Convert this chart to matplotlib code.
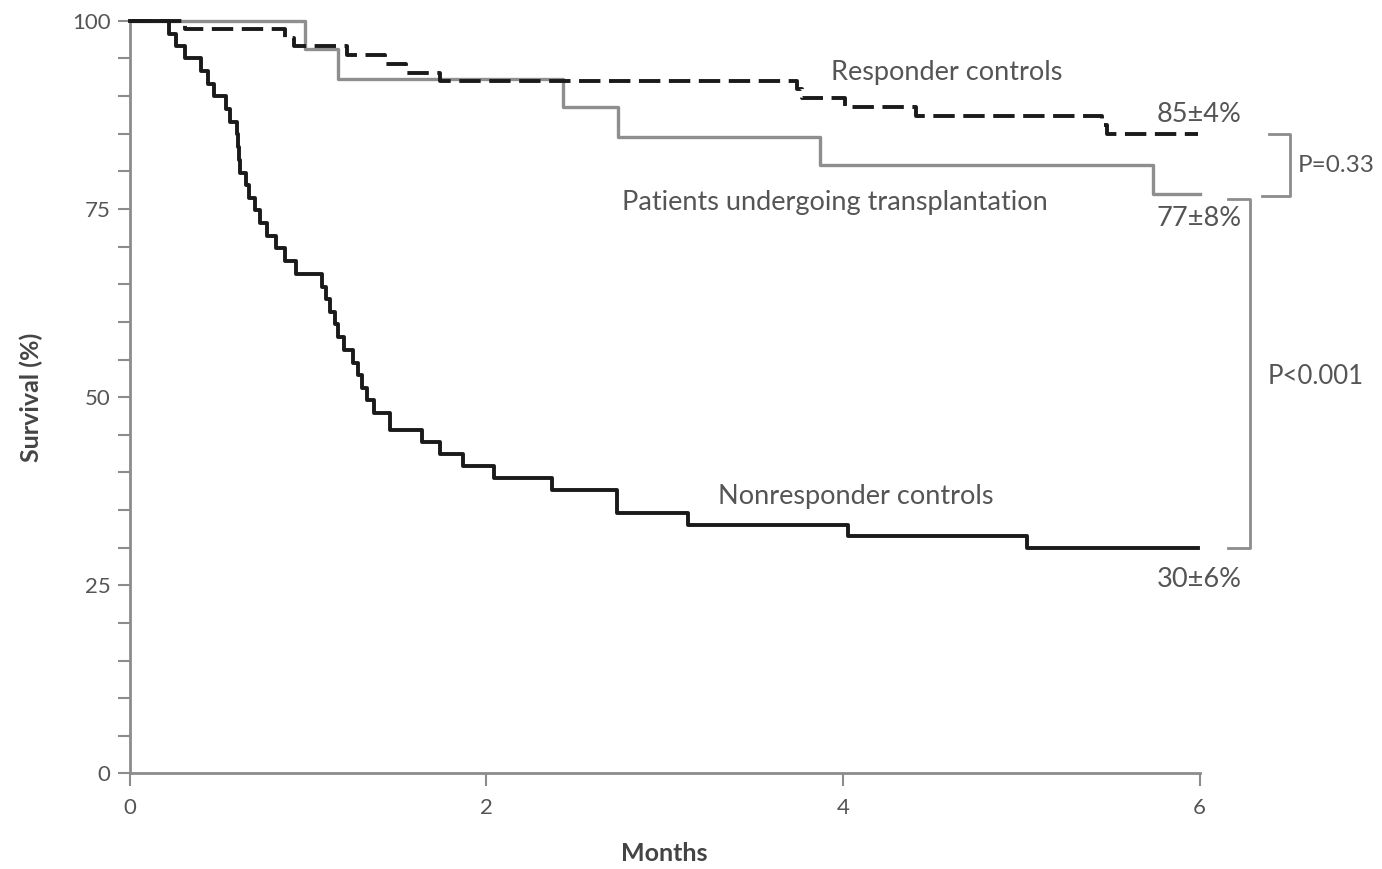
import matplotlib.pyplot as plt
from matplotlib.ticker import MultipleLocator

# Kaplan-Meier step data (months, survival %)
resp_t = [0.00, 0.31, 0.87, 0.92, 1.22, 1.43, 1.55, 1.74, 3.74, 3.77, 4.01, 4.41, 5.45, 5.48, 5.99]
resp_s = [100.0, 98.9, 97.7, 96.6, 95.4, 94.3, 93.1, 92.0, 90.9, 89.7, 88.6, 87.4, 86.2, 85.0, 85.0]

tx_t = [0.00, 0.98, 1.17, 2.43, 2.74, 3.87, 5.74, 6.00]
tx_s = [100.0, 96.2, 92.3, 88.5, 84.6, 80.8, 77.0, 77.0]

nonresp_t = [0.00, 0.22, 0.26, 0.31, 0.40, 0.44, 0.47, 0.54, 0.56, 0.60, 0.605, 0.61, 0.62,
             0.65, 0.67, 0.70, 0.73, 0.77, 0.82, 0.87, 0.93, 1.08, 1.10, 1.12, 1.15, 1.17,
             1.20, 1.25, 1.28, 1.30, 1.33, 1.37, 1.46, 1.64, 1.74, 1.87, 2.04, 2.37, 2.73,
             3.13, 4.03, 5.03, 5.99]
nonresp_s = [100.0, 98.3, 96.6, 95.0, 93.3, 91.6, 90.0, 88.3, 86.6, 84.9, 83.2, 81.5, 79.8,
             78.2, 76.5, 74.8, 73.1, 71.4, 69.8, 68.1, 66.4, 64.7, 63.0, 61.3, 59.7, 58.0,
             56.3, 54.6, 52.9, 51.2, 49.6, 47.9, 45.6, 44.0, 42.4, 40.9, 39.3, 37.7, 34.6,
             33.0, 31.5, 30.0, 30.0]

plt.rcParams['font.family'] = ['Lato', 'DejaVu Sans']
txt_col = '#555555'
axis_col = '#8c8c8c'
fs = 19.5

fig = plt.figure(figsize=(13.82, 8.69), dpi=100)
ax = fig.add_axes([0.094, 0.110, 0.774, 0.866])

ax.plot(tx_t, tx_s, drawstyle='steps-post', color='#8e8e8e', lw=2.4, clip_on=False, zorder=2)
ax.plot(resp_t, resp_s, drawstyle='steps-post', color='#1a1a1a', lw=2.8,
        dashes=(5.5, 2.2), clip_on=False, zorder=3)
ax.plot(nonresp_t, nonresp_s, drawstyle='steps-post', color='#1a1a1a', lw=2.8,
        clip_on=False, zorder=3)

ax.set_xlim(0, 6)
ax.set_ylim(0, 100)
ax.set_xticks([0, 2, 4, 6])
ax.yaxis.set_major_locator(MultipleLocator(25))
ax.yaxis.set_minor_locator(MultipleLocator(5))

for side in ['top', 'right']:
    ax.spines[side].set_visible(False)
for side in ['left', 'bottom']:
    ax.spines[side].set_color(axis_col)
    ax.spines[side].set_linewidth(2)

ax.tick_params(axis='both', which='both', direction='out', length=9, width=1.5,
               color=axis_col, labelcolor=txt_col, labelsize=16)
ax.tick_params(axis='x', pad=9)
ax.tick_params(axis='y', pad=5)

ax.set_xlabel('Months', fontsize=18, fontweight='bold', color='#444444', labelpad=17)
ax.set_ylabel('Survival (%)', fontsize=18, fontweight='bold', color='#444444', labelpad=21)

# curve labels
ax.text(3.93, 93.2, 'Responder controls', fontsize=fs, color=txt_col, va='center')
ax.text(2.76, 75.9, 'Patients undergoing transplantation', fontsize=fs, color=txt_col, va='center')
ax.text(3.30, 36.8, 'Nonresponder controls', fontsize=fs, color=txt_col, va='center')

ax.text(5.76, 87.6, '85\u00b14%', fontsize=fs, color=txt_col, va='center')
ax.text(5.76, 73.8, '77\u00b18%', fontsize=fs, color=txt_col, va='center')
ax.text(5.76, 25.8, '30\u00b16%', fontsize=fs, color=txt_col, va='center')

# comparison brackets
ax.plot([6.39, 6.51, 6.51, 6.35], [85.0, 85.0, 76.7, 76.7], color=axis_col, lw=2, clip_on=False)
ax.text(6.55, 80.8, 'P=0.33', fontsize=17.5, color=txt_col, va='center')
ax.plot([6.16, 6.285, 6.285, 6.16], [76.3, 76.3, 30.0, 30.0], color=axis_col, lw=2, clip_on=False)
ax.text(6.38, 52.8, 'P<0.001', fontsize=18.5, color=txt_col, va='center')

fig.savefig('out.png', dpi=100)
